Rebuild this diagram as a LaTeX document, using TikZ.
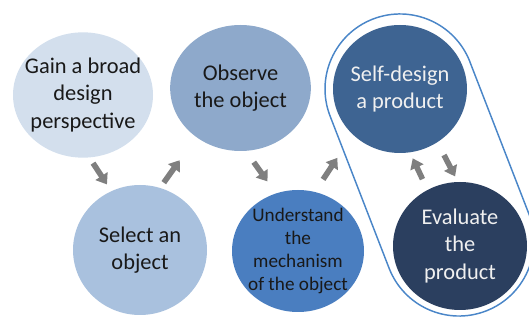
\documentclass[tikz,border=0pt]{standalone}
\usepackage{fontspec}
\setmainfont{Carlito}
\usetikzlibrary{shapes.geometric,arrows.meta}

\definecolor{gaincol}{RGB}{211,223,237}
\definecolor{obscol}{RGB}{142,169,203}
\definecolor{selcol}{RGB}{169,193,222}
\definecolor{undcol}{RGB}{74,126,192}
\definecolor{selfcol}{RGB}{62,100,146}
\definecolor{evalcol}{RGB}{43,63,95}
\definecolor{ringblue}{RGB}{74,134,200}
\definecolor{arrowgray}{RGB}{127,127,127}

\tikzset{every picture/.style={line width=0.75pt}}

\begin{document}
\begin{tikzpicture}[x=0.75pt,y=0.75pt,yscale=-1,xscale=1,
  bub/.style={ellipse, inner sep=0pt, minimum width=100.5pt, minimum height=96pt},
  darktxt/.style={font=\fontsize{16.8}{20.5}\selectfont, align=center, text=black!90},
  lighttxt/.style={font=\fontsize{16.8}{20.5}\selectfont, align=center, text=white!94!black},
  flow/.style={draw=arrowgray, line width=4.2pt, -{Triangle[length=7.5pt,width=10.5pt]}}]
\useasboundingbox (0,0) rectangle (529,320);

%Shape: Ellipse
\node [bub, fill=gaincol, minimum width=105pt, minimum height=94pt, label={[darktxt]center:Gain a broad\\design\\perspective}] (gain) at (83,95) {};
%Shape: Ellipse
\node [bub, fill=obscol, minimum width=105.5pt, minimum height=94.5pt, label={[darktxt]center:Observe\\the object}] (observe) at (240.5,88) {};
%Shape: Ellipse
\node [bub, fill=selcol, minimum height=97.5pt, label={[darktxt]center:Select an\\object}] (select) at (140,250) {};
%Shape: Ellipse
\node [bub, fill=undcol, minimum width=99pt, minimum height=91.5pt, label={[darktxt, font=\fontsize{14.4}{17.3}\selectfont]center:Understand\\the\\mechanism\\of the object}] (und) at (298,251) {};
%Shape: Ellipse
\node [bub, fill=selfcol, label={[lighttxt]center:Self-design\\a product}] (self) at (400,89) {};
%Shape: Ellipse
\node [bub, fill=evalcol, label={[lighttxt]center:Evaluate\\the\\product}] (eval) at (460,246) {};

%Shape: Capsule
\draw [color=ringblue, line width=1.1pt] (469.9,61.9) -- (528.9,213.9) arc [start angle=-21.2, end angle=158.8, radius=75] -- (330.1,116.1) arc [start angle=158.8, end angle=338.8, radius=75] -- cycle ;

%Straight Lines
\draw [flow, shorten <=4.7pt, shorten >=5.7pt] (gain.-84) -- (select.116.3) ;
%Straight Lines
\draw [flow, shorten <=4.5pt, shorten >=21pt] (select.72.7) -- (observe.228.8) ;
%Straight Lines
\draw [flow, shorten <=10pt, shorten >=10.7pt] (observe.-85.2) -- (und.111.7) ;
%Straight Lines
\draw [flow, shorten <=10.9pt, shorten >=20.7pt] (und.74.1) -- (self.224.9) ;
%Straight Lines
\draw [flow, shorten <=8.6pt, shorten >=4.6pt] (eval.120.9) -- (self.-81.5) ;
%Straight Lines
\draw [flow, shorten <=10.5pt, shorten >=4.3pt] (self.-55.9) -- (eval.92.1) ;

\end{tikzpicture}
\end{document}
